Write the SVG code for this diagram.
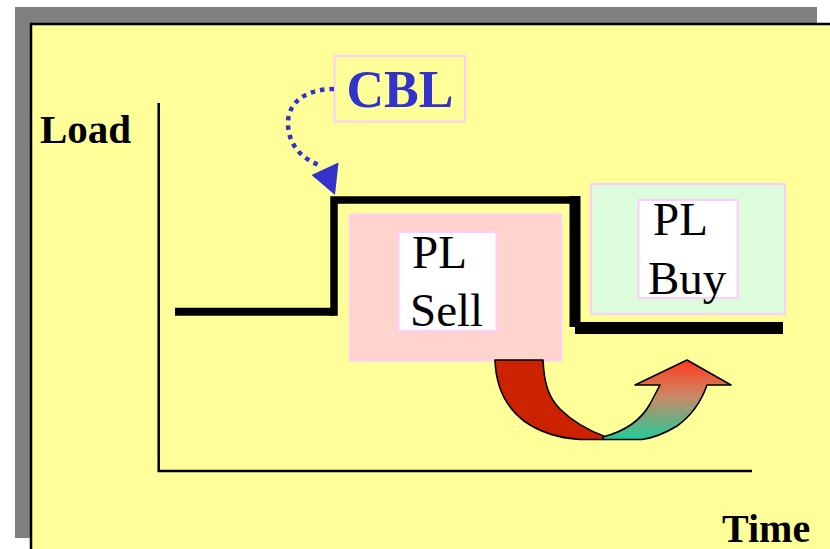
<svg xmlns="http://www.w3.org/2000/svg" width="830" height="549" viewBox="0 0 830 549">
<style>
.box{stroke:#FFCCFF;stroke-width:2}
.step{fill:none;stroke:#000;stroke-linecap:butt}
.arr{stroke:#000;stroke-width:1.6;stroke-linejoin:round}
</style>
<defs>
<linearGradient id="grad" x1="0" y1="360" x2="0" y2="440" gradientUnits="userSpaceOnUse">
<stop offset="0" stop-color="#FF3A1A"/>
<stop offset="0.45" stop-color="#CC8866"/>
<stop offset="1" stop-color="#22CC99"/>
</linearGradient>
</defs>
<rect x="0" y="0" width="830" height="549" fill="#FFFFFF"/>
<rect x="15" y="7" width="802" height="531" fill="#808080"/>
<rect x="31" y="24" width="820" height="540" fill="#FFFF99" stroke="#000" stroke-width="2.5"/>

<g id="axes">
<path d="M158.7,103 V471 H752" fill="none" stroke="#000" stroke-width="2.5"/>
</g>
<g id="load-label"><text x="40" y="143" font-family="'Liberation Serif', 'DejaVu Serif', serif" font-weight="bold" font-size="41" fill="#000">Load</text></g>
<g id="time-label"><text x="722" y="542" font-family="'Liberation Serif', 'DejaVu Serif', serif" font-weight="bold" font-size="40" fill="#000">Time</text></g>

<g id="step-line">
<path class="step" d="M175,311.7 H334" stroke-width="8"/>
<path class="step" d="M334,315.7 V200 H575" stroke-width="7.5"/>
<path class="step" d="M575,196 V327" stroke-width="11"/>
<path class="step" d="M575,328 H783" stroke-width="12"/>
</g>

<g id="pl-sell" font-family="'Liberation Serif', 'DejaVu Serif', serif" font-size="47" fill="#000">
<rect class="box" x="350" y="214.5" width="211" height="146" fill="#FFD4CC"/>
<rect class="box" x="398.5" y="232" width="98" height="99" fill="#FFFFFF"/>
<text x="412" y="268">PL</text>
<text x="410" y="325.5">Sell</text>
</g>

<g id="pl-buy" font-family="'Liberation Serif', 'DejaVu Serif', serif" font-size="47" fill="#000">
<rect class="box" x="591" y="184" width="194" height="130" fill="#DCFCDC"/>
<rect class="box" x="638.5" y="200" width="99" height="98" fill="#FFFFFF"/>
<text x="653" y="235">PL</text>
<text x="648" y="294">Buy</text>
</g>

<g id="cbl">
<rect x="334.5" y="56" width="130.5" height="65.5" fill="none" stroke="#FFCCFF" stroke-width="2"/>
<text x="346.5" y="107" font-family="'Liberation Serif', 'DejaVu Serif', serif" font-weight="bold" font-size="52" fill="#3333CC">CBL</text>
</g>

<g id="connectors">
<path d="M334,89 C305,89 287,103 288,125 C289,146 303,160 322,166" fill="none" stroke="#3333CC" stroke-width="4.5" stroke-dasharray="4.5 5"/>
<polygon points="311.5,175 338.5,162.5 335,195" fill="#3333CC"/>
<path class="arr" fill="#CC2200" d="M495,360 H543 C544,382 548,397 560,409 C574,423 590,431 606,437 L603,439.5 L580,439.5 C558,438 538,431 524,421 C507,408 496,388 495,360 Z"/>
<path class="arr" fill="url(#grad)" d="M603,437 C622,432 640,422 650,404 L660,385 H635 L687,360 L731,385 H707 C701,402 691,416 677,426 C664,434 652,438 642,439.5 L603,439.5 Z"/>
</g>
</svg>
